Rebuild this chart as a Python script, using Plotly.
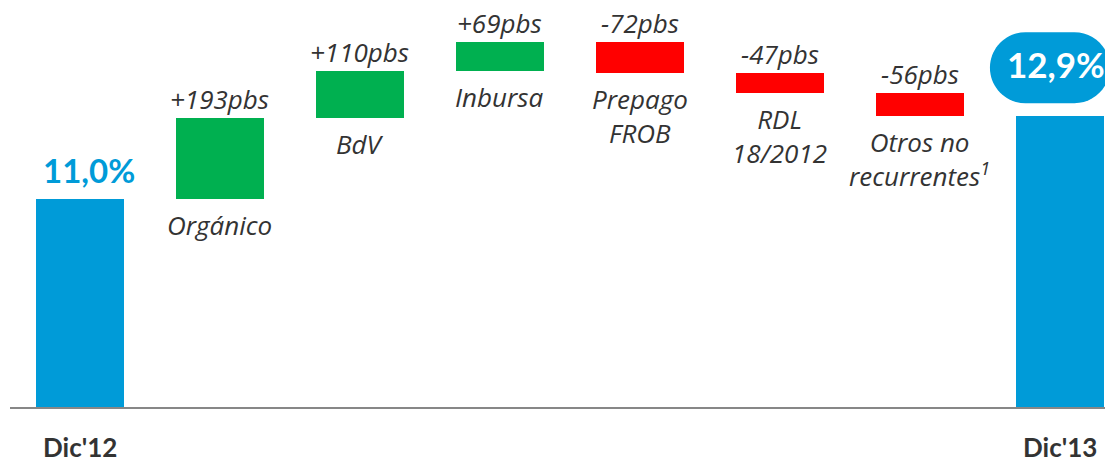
import numpy as np
import plotly.graph_objects as go

# ---- data ----
categories = ["Dic'12", "Orgánico", "BdV", "Inbursa", "Prepago<br>FROB",
              "RDL<br>18/2012", "Otros no<br>recurrentes<sup>1</sup>", "Dic'13"]
start_value = 11.0
end_value = 12.9
delta_bps = [193, 110, 69, -72, -47, -56]
delta_labels = ["+193pbs", "+110pbs", "+69pbs", "-72pbs", "-47pbs", "-56pbs"]

# ---- style ----
BLUE = "#009BD8"
GREEN = "#00B050"
RED = "#FF0000"
TXT = "#333333"
FONT_B = "Lato"
FONT_I = "Open Sans"

y_min, y_max = 6.07, 15.536

deltas = np.array(delta_bps) / 100.0
levels = start_value + np.concatenate([[0], np.cumsum(deltas)])
final_level = levels[-1]

x_idx = list(range(len(categories)))

bases, heights, colors = [], [], []
bases.append(y_min); heights.append(start_value - y_min); colors.append(BLUE)
for i, d in enumerate(deltas):
    lo = min(levels[i], levels[i + 1])
    bases.append(lo); heights.append(abs(d)); colors.append(GREEN if d > 0 else RED)
bases.append(y_min); heights.append(final_level - y_min); colors.append(BLUE)

fig = go.Figure()
fig.add_trace(go.Bar(
    x=x_idx, y=heights, base=bases, marker=dict(color=colors, line=dict(width=0)),
    width=0.63, hoverinfo="skip", showlegend=False,
))

ann = []
for i, d in enumerate(deltas):
    xi = i + 1
    top = max(levels[i], levels[i + 1])
    bot = min(levels[i], levels[i + 1])
    ann.append(dict(x=xi, y=top, text=f"<i>{delta_labels[i]}</i>", showarrow=False,
                    yanchor="bottom", yshift=-1, font=dict(family=FONT_I, size=26, color=TXT)))
    ann.append(dict(x=xi, y=bot, text=f"<i>{categories[xi]}</i>", showarrow=False,
                    yanchor="top", yshift=-6, font=dict(family=FONT_I, size=26, color=TXT)))

ann.append(dict(x=0, y=start_value, text=f"<b>{start_value:.1f}%</b>".replace(".", ","),
                showarrow=False, yanchor="bottom", yshift=7, xshift=9,
                font=dict(family=FONT_B, size=33, color=BLUE)))
ann.append(dict(x=7, y=final_level, text=f"<b>{end_value:.1f}%</b>".replace(".", ","),
                showarrow=False, yanchor="bottom", yshift=29, xshift=-4,
                font=dict(family=FONT_B, size=35, color="white")))

for xi in (0, 7):
    ann.append(dict(x=xi, y=0, yref="paper", text=f"<b>{categories[xi]}</b>", showarrow=False,
                    yanchor="top", yshift=-22, font=dict(family=FONT_B, size=26, color=TXT)))

r = 35.5
x0p, x1p = -70, 50
y0p, y1p = 13, 84
k = 0.5523 * r
path = (f"M {x0p + r},{y0p} L {x1p - r},{y0p} "
        f"C {x1p - r + k},{y0p} {x1p},{y0p + r - k} {x1p},{y0p + r} "
        f"C {x1p},{y1p - r + k} {x1p - r + k},{y1p} {x1p - r},{y1p} "
        f"L {x0p + r},{y1p} "
        f"C {x0p + r - k},{y1p} {x0p},{y1p - r + k} {x0p},{y1p - r} "
        f"C {x0p},{y0p + r - k} {x0p + r - k},{y0p} {x0p + r},{y0p} Z")
shapes = [dict(type="path", xsizemode="pixel", ysizemode="pixel", xanchor=7, yanchor=final_level,
               path=path, fillcolor=BLUE, line=dict(width=0), layer="below")]

fig.update_layout(
    width=1105, height=455,
    margin=dict(l=2, r=0, t=0, b=56),
    paper_bgcolor="white", plot_bgcolor="white",
    xaxis=dict(range=[-0.5, 7.379], showgrid=False, zeroline=False, showticklabels=False,
               showline=True, linecolor="#878787", linewidth=2, ticks=""),
    yaxis=dict(range=[y_min, y_max], showgrid=False, zeroline=False, showticklabels=False,
               showline=False),
    annotations=ann, shapes=shapes,
    bargap=0,
)
fig.write_html("out.html")
